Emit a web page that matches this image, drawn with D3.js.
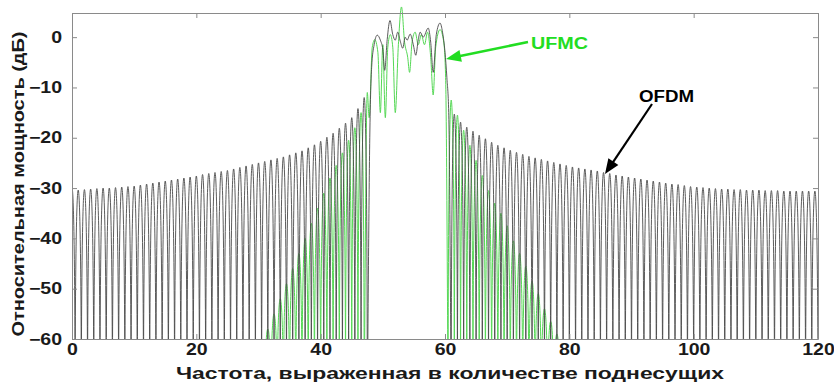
<!DOCTYPE html>
<html>
<head>
<meta charset="utf-8">
<script src="https://cdn.jsdelivr.net/npm/d3@7"></script>
<style>
  html, body { margin: 0; padding: 0; background: #fff; }
  svg { display: block; }
  text { font-family: "Liberation Sans", Arial, sans-serif; font-weight: bold; }
</style>
</head>
<body>
<svg id="chart" width="834" height="385"></svg>
<script>
// ---- axis ticks ----
const xTicks = [0, 20, 40, 60, 80, 100, 120];
const yTicks = [-60, -50, -40, -30, -20, -10, 0];

// ---- OFDM spectrum ----
// side-lobe peak levels (dB), one lobe per subcarrier spacing
const ofdmLeftFirstCentre = 0;
const ofdmLeftPeaks = [
  -30.0, -30.4, -30.3, -30.2, -30.1, -30.0, -30.0, -29.9, -29.8, -29.7,
  -29.6, -29.4, -29.2, -29.0, -28.8, -28.6, -28.4, -28.2, -28.0, -27.8,
  -27.6, -27.3, -27.1, -26.9, -26.7, -26.5, -26.2, -25.9, -25.6, -25.3,
  -25.0, -24.7, -24.4, -24.1, -23.8, -23.4, -23.0, -22.6, -22.0, -21.4,
  -20.7, -19.9, -19.1, -18.1, -17.1, -16.0, -14.2, -12.0
];
// occupied band: frequency / level pairs
const ofdmBandFreq = [47.5, 47.9, 48.2, 48.6, 49.1, 49.6, 50.0, 50.3, 50.7, 51.15, 51.6, 52.0, 52.4, 52.8, 53.2, 53.6, 53.9, 54.4, 54.9, 55.3, 55.7, 56.0, 56.5, 57.3, 57.7, 58.1, 58.6, 59.2, 59.6, 60.0, 60.3, 60.6, 61.0];
const ofdmBandDb   = [-75, -20, -6, -1.5, 0.4, -0.6, -2.5, -6.6, -0.5, 3.3, 0.5, -0.6, 1.0, -0.8, -2.2, 0.0, -0.6, 0.6, -1.5, -3.6, -0.5, 1.0, 0.0, 1.8, -1.0, -7.0, 0.5, 2.8, 1.0, -3.0, -8.0, -15.0, -75];
const ofdmRightFirstCentre = 61.5;
const ofdmRightPeaks = [
  -15.3, -16.9, -17.9, -18.7, -19.5, -20.2, -20.9, -21.5, -22.0, -22.5,
  -22.9, -23.3, -23.7, -24.0, -24.3, -24.6, -24.9, -25.2, -25.5, -25.8,
  -26.0, -26.2, -26.4, -26.6, -26.9, -27.1, -27.4, -27.6, -27.8, -28.0,
  -28.2, -28.4, -28.6, -28.8, -29.0, -29.2, -29.3, -29.5, -29.7, -29.8,
  -29.9, -30.0, -30.1, -30.2, -30.2, -30.3, -30.3, -30.4, -30.4, -30.4,
  -30.5, -30.5, -30.5, -30.6, -30.6, -30.6, -30.6, -30.6, -30.6
];

// ---- UFMC spectrum ----
const ufmcLeftFirstCentre = 29.5;
const ufmcLeftPeaks = [
  -64, -61, -58, -55, -52, -49, -46, -43, -40, -37,
  -34, -31, -28, -25.5, -23, -20.5, -18, -15
];
const ufmcBandFreq = [47.0, 47.5, 47.8, 48.3, 48.7, 49.2, 49.6, 50.0, 50.4, 50.8, 51.2, 51.6, 52.0, 52.5, 53.0, 53.5, 54.0, 54.3, 54.7, 55.2, 55.7, 56.2, 56.7, 57.2, 57.7, 58.1, 58.5, 59.2, 59.8, 60.1, 60.5];
const ufmcBandDb   = [-75, -11, -16, -2, -0.5, -3, -15, -1.5, -16, -2, 0.5, -2, -15, -1.5, 6, -1, -4, -7, -1, 1, -1.5, 0.5, -1.5, 1, -4, -11.5, -2, 1.5, -1, -8, -75];
const ufmcRightFirstCentre = 61;
const ufmcRightPeaks = [
  -12.5, -15.5, -18.5, -21.5, -24.5, -27.5, -30.5, -33, -35, -37.5,
  -40.5, -43, -45.5, -48.5, -51, -54, -56.5, -59, -62
];

// level used for the spectral nulls (below the visible range)
const NULL_DB = -75;

// ---- layout ----
const svg = d3.select("#chart");
const x = d3.scaleLinear().domain([0, 120]).range([72, 818]);
const y = d3.scaleLinear().domain([-60, 4.8]).range([339, 13]);

const axisColor = "#8a8a8a";
const labelColor = "#1a1a1a";

svg.append("defs").append("clipPath").attr("id", "plotClip")
  .append("rect")
  .attr("x", x(0)).attr("y", 0)
  .attr("width", x(120) - x(0)).attr("height", y(-60));

// one cubic lobe per subcarrier spacing: vertical at the nulls, rounded at the peak
function lobes(path, firstCentre, peaks) {
  const yb = y(NULL_DB);
  peaks.forEach((p, i) => {
    const c = firstCentre + i;
    const xl = x(c - 0.5), xr = x(c + 0.5);
    const yc = (y(p) - 0.25 * yb) / 0.75;
    if (i === 0) path.moveTo(xl, yb);
    path.bezierCurveTo(xl, yc, xr, yc, xr, yb);
  });
}

const bandLine = d3.line()
  .x(d => x(d[0]))
  .y(d => y(d[1]))
  .curve(d3.curveMonotoneX);

function spectrum(leftStart, leftPeaks, bandF, bandDb, rightStart, rightPeaks) {
  const p = d3.path();
  lobes(p, leftStart, leftPeaks);
  lobes(p, rightStart, rightPeaks);
  return p.toString() + bandLine(bandF.map((f, i) => [f, bandDb[i]]));
}

const plot = svg.append("g").attr("clip-path", "url(#plotClip)");

plot.append("path")
  .attr("d", spectrum(ufmcLeftFirstCentre, ufmcLeftPeaks, ufmcBandFreq, ufmcBandDb, ufmcRightFirstCentre, ufmcRightPeaks))
  .attr("fill", "none")
  .attr("stroke", "#55d855")
  .attr("stroke-width", 1);

plot.append("path")
  .attr("d", spectrum(ofdmLeftFirstCentre, ofdmLeftPeaks, ofdmBandFreq, ofdmBandDb, ofdmRightFirstCentre, ofdmRightPeaks))
  .attr("fill", "none")
  .attr("stroke", "#4a4a4a")
  .attr("stroke-width", 0.9);

// ---- axes (box with inward ticks) ----
function stretchText(sel, k) {
  sel.each(function () {
    const w = this.getComputedTextLength();
    d3.select(this).attr("textLength", w * k).attr("lengthAdjust", "spacingAndGlyphs");
  });
}

function styleAxis(g) {
  g.selectAll(".domain").attr("stroke", axisColor);
  g.selectAll(".tick line").attr("stroke", axisColor);
  g.selectAll(".tick text")
    .attr("fill", labelColor)
    .style("font-size", "16px")
    .style("font-weight", "bold")
    .style("font-family", "'Liberation Sans', Arial, sans-serif");
}

const gx = svg.append("g").attr("transform", `translate(0,${y(-60)})`)
  .call(d3.axisBottom(x).tickValues(xTicks).tickSize(-5).tickSizeOuter(0).tickPadding(5).tickFormat(d3.format("d")))
  .call(styleAxis);
gx.selectAll(".tick text").call(stretchText, 1.22);

const gy = svg.append("g").attr("transform", `translate(${x(0)},0)`)
  .call(d3.axisLeft(y).tickValues(yTicks).tickSize(-5).tickSizeOuter(0).tickPadding(10).tickFormat(d3.format("d")))
  .call(styleAxis);
gy.selectAll(".tick text").call(stretchText, 1.22);

svg.append("g").attr("transform", `translate(0,${y(4.8)})`)
  .call(d3.axisTop(x).tickValues(xTicks).tickSize(-5).tickSizeOuter(0).tickFormat(""))
  .call(styleAxis);

svg.append("g").attr("transform", `translate(${x(120)},0)`)
  .call(d3.axisRight(y).tickValues(yTicks).tickSize(-5).tickSizeOuter(0).tickFormat(""))
  .call(styleAxis);

// ---- axis titles ----
svg.append("text")
  .attr("x", 450).attr("y", 379)
  .attr("text-anchor", "middle")
  .attr("fill", labelColor)
  .style("font-size", "16px")
  .attr("textLength", 548).attr("lengthAdjust", "spacingAndGlyphs")
  .text("Частота, выраженная в количестве поднесущих");

svg.append("text")
  .attr("transform", "translate(24,184) rotate(-90)")
  .attr("text-anchor", "middle")
  .attr("fill", labelColor)
  .style("font-size", "16px")
  .attr("textLength", 305).attr("lengthAdjust", "spacingAndGlyphs")
  .text("Относительная мощность (дБ)");

// ---- annotations ----
function arrow(x1, y1, x2, y2, color, width, headLen, headHalf) {
  const len = Math.hypot(x2 - x1, y2 - y1);
  svg.append("line")
    .attr("x1", x1).attr("y1", y1)
    .attr("x2", x2 - (x2 - x1) / len * headLen * 0.8)
    .attr("y2", y2 - (y2 - y1) / len * headLen * 0.8)
    .attr("stroke", color).attr("stroke-width", width);
  const a = Math.atan2(y2 - y1, x2 - x1);
  const bx = x2 - headLen * Math.cos(a), by = y2 - headLen * Math.sin(a);
  const px = -Math.sin(a) * headHalf, py = Math.cos(a) * headHalf;
  svg.append("polygon")
    .attr("points", `${x2},${y2} ${bx + px},${by + py} ${bx - px},${by - py}`)
    .attr("fill", color);
}

arrow(528, 42, 446, 59, "#22dd22", 2.5, 15, 6);
svg.append("text")
  .attr("x", 531).attr("y", 49)
  .attr("fill", "#22dd22")
  .style("font-size", "16px")
  .attr("textLength", 57).attr("lengthAdjust", "spacingAndGlyphs")
  .text("UFMC");

arrow(652, 104, 605, 174, "#000", 2.2, 15, 6);
svg.append("text")
  .attr("x", 639).attr("y", 102)
  .attr("fill", "#000")
  .style("font-size", "16px")
  .attr("textLength", 55).attr("lengthAdjust", "spacingAndGlyphs")
  .text("OFDM");
</script>
</body>
</html>
